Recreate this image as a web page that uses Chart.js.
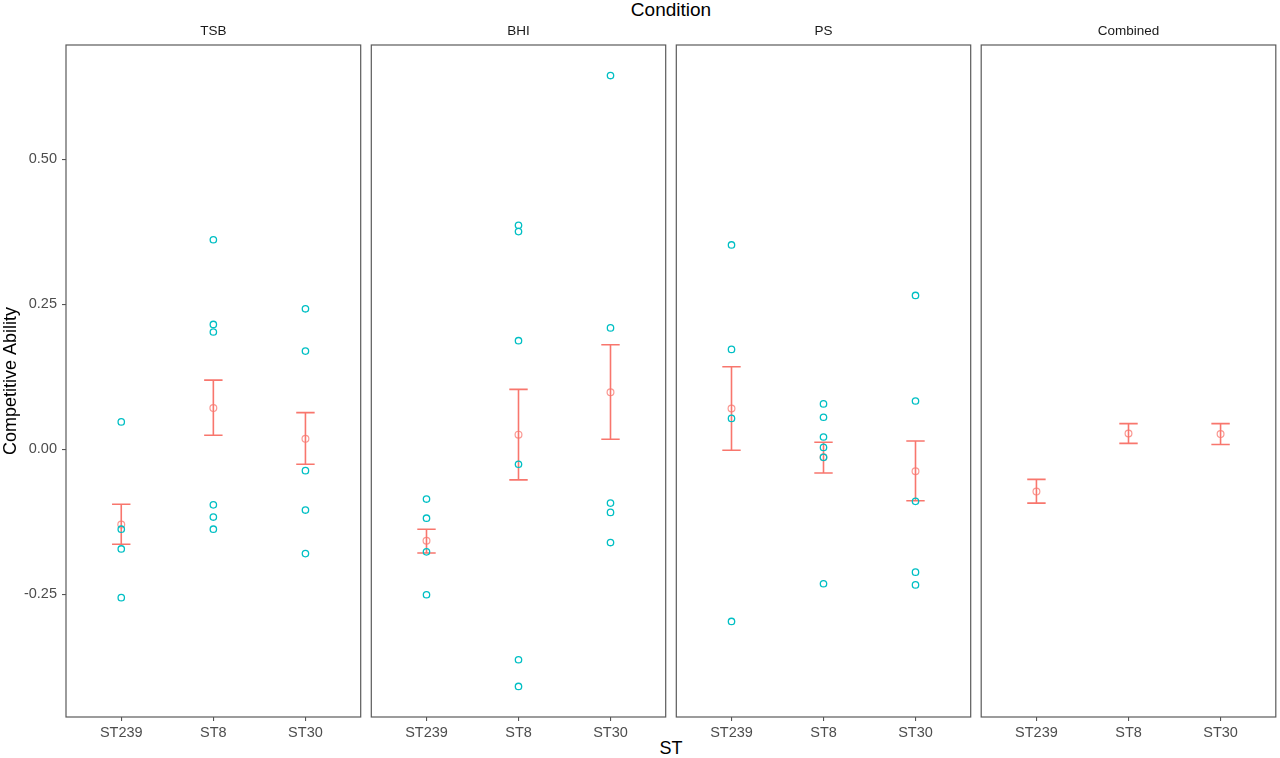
<!DOCTYPE html>
<html lang="en">
<head>
<meta charset="UTF-8">
<title>Competitive Ability by ST</title>
<script src="https://cdn.jsdelivr.net/npm/chart.js"></script>
<style>
    body { margin: 0; background: #fff; }
    #wrap { position: relative; width: 1280px; height: 758px; overflow: hidden; font-family: "Liberation Sans", Arial, sans-serif; }
    #wrap canvas { position: absolute; top: 0; }
    .label { position: absolute; transform: translate(-50%, -50%); white-space: nowrap; color: #000; }
</style>
</head>
<body>
<div id="wrap">
    <div class="label" style="left:671px; top:10px; font-size:19px;">Condition</div>
    <div class="label" style="left:671px; top:748px; font-size:18px;">ST</div>
</div>
<script>
    // facets and categories
    const conditions = ['TSB', 'BHI', 'PS', 'Combined'];
    const strains = ['ST239', 'ST8', 'ST30'];
    const yTicks = [-0.25, 0, 0.25, 0.5];
    const yMin = -0.4617;
    const yMax = 0.6967;

    // replicate values (one list per strain) for each condition
    const replicatesTSB = [
        [0.047, -0.138, -0.172, -0.256],
        [0.361, 0.215, 0.202, -0.096, -0.117, -0.138],
        [0.242, 0.169, -0.037, -0.105, -0.180]
    ];
    const replicatesBHI = [
        [-0.086, -0.119, -0.177, -0.251],
        [0.386, 0.375, 0.187, -0.026, -0.363, -0.409],
        [0.644, 0.209, -0.093, -0.109, -0.161]
    ];
    const replicatesPS = [
        [0.352, 0.172, 0.053, -0.297],
        [0.078, 0.055, 0.021, 0.003, -0.014, -0.232],
        [0.265, 0.083, -0.090, -0.212, -0.234]
    ];
    const replicatesCombined = [[], [], []];

    // means and error bar ends, per condition (ST239, ST8, ST30)
    const meanValues = [
        [-0.130, 0.071, 0.018],
        [-0.158, 0.025, 0.098],
        [0.070, -0.014, -0.038],
        [-0.073, 0.027, 0.026]
    ];
    const lowerValues = [
        [-0.164, 0.024, -0.026],
        [-0.179, -0.053, 0.017],
        [-0.002, -0.041, -0.089],
        [-0.093, 0.010, 0.008]
    ];
    const upperValues = [
        [-0.095, 0.119, 0.063],
        [-0.138, 0.103, 0.180],
        [0.142, 0.012, 0.014],
        [-0.052, 0.044, 0.044]
    ];

    const replicates = [replicatesTSB, replicatesBHI, replicatesPS, replicatesCombined];

    const blue = '#00BFC4';
    const red = '#F8766D';
    const font = '"Liberation Sans", Arial, sans-serif';

    // panel geometry
    const panelLeft = [66, 371, 676, 981];
    const panelWidth = 295;
    const panelTop = 45;
    const axisHeight = 41;
    const yAxisWidth = 66;

    // error bars (drawn under the points) from the chart's own scales
    const errorBars = {
        id: 'errorBars',
        beforeDatasetsDraw(chart, args, opts) {
            const { ctx, scales: { x, y } } = chart;
            const lo = lowerValues[opts.panel];
            const hi = upperValues[opts.panel];
            ctx.save();
            ctx.strokeStyle = red;
            ctx.lineWidth = 1.6;
            lo.forEach((v, i) => {
                const cx = x.getPixelForValue(i + 1);
                const half = x.getPixelForValue(i + 1.1) - cx;
                const y1 = y.getPixelForValue(v);
                const y2 = y.getPixelForValue(hi[i]);
                ctx.beginPath();
                ctx.moveTo(cx, y1); ctx.lineTo(cx, y2);
                ctx.moveTo(cx - half, y1); ctx.lineTo(cx + half, y1);
                ctx.moveTo(cx - half, y2); ctx.lineTo(cx + half, y2);
                ctx.stroke();
            });
            ctx.restore();
        }
    };

    // panel border and strip label
    const panelFrame = {
        id: 'panelFrame',
        afterDraw(chart, args, opts) {
            const { ctx, chartArea: a } = chart;
            ctx.save();
            ctx.strokeStyle = '#5a5a5a';
            ctx.lineWidth = 1.2;
            ctx.strokeRect(a.left, a.top, a.right - a.left, a.bottom - a.top);
            ctx.fillStyle = '#1a1a1a';
            ctx.font = '13.5px ' + font;
            ctx.textAlign = 'center';
            ctx.textBaseline = 'middle';
            ctx.fillText(opts.label, (a.left + a.right) / 2, a.top - 14);
            ctx.restore();
        }
    };

    const wrap = document.getElementById('wrap');

    conditions.forEach((cond, p) => {
        const first = p === 0;
        const canvas = document.createElement('canvas');
        const left = first ? 0 : panelLeft[p] - 5;
        const width = first ? yAxisWidth + panelWidth + 5 : panelWidth + 10;
        canvas.width = width;
        canvas.height = 758;
        canvas.style.left = left + 'px';
        canvas.style.width = width + 'px';
        canvas.style.height = '758px';
        wrap.appendChild(canvas);

        const points = [];
        replicates[p].forEach((list, i) => list.forEach(v => points.push({ x: i + 1, y: v })));
        const means = meanValues[p].map((v, i) => ({ x: i + 1, y: v }));

        new Chart(canvas.getContext('2d'), {
            type: 'scatter',
            data: {
                datasets: [
                    {
                        label: 'Mean',
                        data: means,
                        pointRadius: 3.4,
                        borderWidth: 1.2,
                        borderColor: 'rgba(248, 118, 109, 0.75)',
                        backgroundColor: 'rgba(0,0,0,0)',
                        order: 2
                    },
                    {
                        label: 'Replicate',
                        data: points,
                        pointRadius: 3.2,
                        borderWidth: 1.3,
                        borderColor: blue,
                        backgroundColor: 'rgba(0,0,0,0)',
                        order: 1
                    }
                ]
            },
            options: {
                responsive: false,
                animation: false,
                events: [],
                devicePixelRatio: 1,
                layout: { padding: { left: first ? 0 : 5, right: 5, top: panelTop, bottom: 0 } },
                plugins: {
                    legend: { display: false },
                    tooltip: { enabled: false },
                    errorBars: { panel: p },
                    panelFrame: { label: cond }
                },
                scales: {
                    x: {
                        type: 'linear',
                        min: 0.4,
                        max: 3.6,
                        afterBuildTicks: s => { s.ticks = strains.map((n, i) => ({ value: i + 1 })); },
                        afterFit: s => { s.height = axisHeight; },
                        ticks: {
                            callback: v => strains[v - 1],
                            color: '#4d4d4d',
                            font: { family: font, size: 14.5 },
                            padding: 3,
                            maxRotation: 0
                        },
                        grid: { drawOnChartArea: false, drawTicks: true, tickLength: 4, color: '#555', lineWidth: 1.1 },
                        border: { display: false }
                    },
                    y: {
                        display: first,
                        min: yMin,
                        max: yMax,
                        afterBuildTicks: s => { s.ticks = yTicks.map(v => ({ value: v })); },
                        afterFit: s => { s.width = first ? yAxisWidth : 0; },
                        ticks: {
                            callback: v => v.toFixed(2),
                            color: '#4d4d4d',
                            font: { family: font, size: 14.5 },
                            padding: 5
                        },
                        grid: { drawOnChartArea: false, drawTicks: true, tickLength: 4, color: '#555', lineWidth: 1.1 },
                        border: { display: false },
                        title: {
                            display: true,
                            text: 'Competitive Ability',
                            color: '#000',
                            font: { family: font, size: 18 },
                            padding: 0
                        }
                    }
                }
            },
            plugins: [errorBars, panelFrame]
        });
    });
</script>
</body>
</html>
